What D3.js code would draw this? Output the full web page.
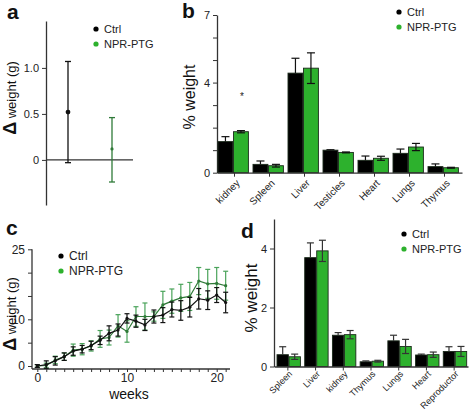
<!DOCTYPE html>
<html><head><meta charset="utf-8">
<script src="https://cdn.jsdelivr.net/npm/d3@7/dist/d3.min.js"></script>
<style>
body{margin:0;background:#fff}
svg{font-family:"Liberation Sans",Arial,sans-serif}
</style>
</head><body>
<svg id="chart" width="472" height="411"></svg>
<script>
// ---------- data ----------
const groups = ["Ctrl", "NPR-PTG"];
// panel a
const aMean = [0.52, 0.12];
const aLow = [-0.03, -0.24];
const aHigh = [1.07, 0.46];
const aTicks = [0, 0.5, 1.0];
// panel b
const bCats = ["kidney", "Spleen", "Liver", "Testicles", "Heart", "Lungs", "Thymus"];
const bCtrl = [1.38, 0.37, 4.42, 1.0, 0.55, 0.86, 0.27];
const bCtrlErr = [0.22, 0.15, 0.66, 0.02, 0.19, 0.19, 0.12];
const bNpr = [1.82, 0.31, 4.64, 0.9, 0.64, 1.14, 0.22];
const bNprErr = [0.05, 0.06, 0.68, 0.02, 0.09, 0.16, 0.02];
const bTicks = [0, 1, 2, 3, 4, 5, 6, 7];
const bLabels = [0, 4, 7];
// panel c
const weeks = [0,1,2,3,4,5,6,7,8,9,10,11,12,13,14,15,16,17,18,19,20,21];
const cCtrl = [0,0.3,1.1,2.0,3.2,3.6,4.4,5.5,7.0,7.7,10.2,9.6,8.8,10.6,10.9,12.1,11.9,12.6,14.4,14.1,15.2,13.6];
const cCtrlErr = [0.3,0.8,0.9,0.8,0.9,0.8,0.9,0.9,1.6,1.3,1.0,1.3,1.2,1.4,1.6,1.6,2.1,2.1,2.2,2.0,1.6,2.2];
const cNpr = [0,0.1,1.3,2.0,3.4,3.6,4.3,5.8,6.1,8.6,7.4,10.6,10.6,10.6,13.1,13.9,14.6,14.9,18.2,17.6,17.7,17.2];
const cNprErr = [0.3,0.5,0.8,0.8,1.3,1.2,1.1,1.8,1.6,2.4,2.3,2.1,2.9,1.0,2.9,2.6,2.9,3.0,2.9,3.1,3.4,3.1];
const cYTicks = [0, 5, 10, 15, 20, 25];
const cYLabels = [0, 10, 25];
const cXLabels = [0, 10, 20];
// panel d
const dCats = ["Spleen", "Liver", "kidney", "Thymus", "Lungs", "Heart", "Reproductor"];
const dCtrl = [0.40, 3.69, 1.06, 0.16, 0.87, 0.39, 0.51];
const dCtrlErr = [0.27, 0.50, 0.09, 0.03, 0.19, 0.03, 0.16];
const dNpr = [0.33, 3.92, 1.08, 0.18, 0.68, 0.40, 0.51];
const dNprErr = [0.09, 0.36, 0.14, 0.03, 0.24, 0.09, 0.17];
const dTicks = [0, 2, 4];

// ---------- styles ----------
const GREEN = "#2db12d";
const GREEN_DARK = "#2f7a38";
const AXIS = "#333";
const svg = d3.select("#chart");

function styleAxis(g, fs) {
  g.select(".domain").attr("stroke", AXIS).attr("stroke-width", 1.3);
  g.selectAll(".tick line").attr("stroke", AXIS).attr("stroke-width", 1);
  g.selectAll(".tick text").attr("fill", "#222").style("font-size", fs + "px")
    .style("font-family", "Liberation Sans, Arial, sans-serif");
}
function title(x, y, t) {
  svg.append("text").attr("x", x).attr("y", y).text(t)
    .style("font-size", "21px").style("font-weight", "bold").attr("fill", "#111");
}
function legend(x, y, gap, fs) {
  const cols = ["#000", GREEN];
  groups.forEach((g, i) => {
    svg.append("circle").attr("cx", x).attr("cy", y + i * gap).attr("r", 2.6).attr("fill", cols[i]);
    svg.append("text").attr("x", x + 8).attr("y", y + i * gap + 4).text(g)
      .style("font-size", fs + "px").attr("fill", "#222");
  });
}
function deltaLabel(cx, cy) {
  const t = svg.append("text").attr("transform", `translate(${cx},${cy}) rotate(-90)`)
    .attr("text-anchor", "middle").attr("fill", "#111");
  t.append("tspan").text("Δ").style("font-size", "18px").style("font-weight", "bold");
  t.append("tspan").text(" weight (g)").style("font-size", "13px");
}
function yLabel(cx, cy, txt, fs) {
  svg.append("text").attr("transform", `translate(${cx},${cy}) rotate(-90)`)
    .attr("text-anchor", "middle").text(txt).style("font-size", fs + "px").attr("fill", "#111");
}

// ---------- panel a ----------
{
  const y = d3.scaleLinear().domain([-0.49, 1.51]).range([205, 21]);
  const x = d3.scalePoint().domain(groups).range([68, 112]);
  const ax = svg.append("g").attr("transform", "translate(46,0)")
    .call(d3.axisLeft(y).tickValues(aTicks).tickFormat(d => d === 0 ? "0" : d3.format(".1f")(d)).tickSize(4).tickSizeOuter(0));
  styleAxis(ax, 11);
  svg.append("line").attr("x1", 46).attr("x2", 133).attr("y1", y(0)).attr("y2", y(0))
    .attr("stroke", AXIS).attr("stroke-width", 1.3);
  const cols = ["#111", GREEN_DARK];
  groups.forEach((g, i) => {
    const cx = x(g);
    svg.append("line").attr("x1", cx).attr("x2", cx).attr("y1", y(aLow[i])).attr("y2", y(aHigh[i]))
      .attr("stroke", cols[i]).attr("stroke-width", 1.3);
    [aLow[i], aHigh[i]].forEach(v => svg.append("line").attr("x1", cx - 3).attr("x2", cx + 3)
      .attr("y1", y(v)).attr("y2", y(v)).attr("stroke", cols[i]).attr("stroke-width", 1.3));
    svg.append("circle").attr("cx", cx).attr("cy", y(aMean[i])).attr("r", i === 0 ? 2.4 : 1.6).attr("fill", cols[i]);
  });
  legend(96, 29, 15, 11);
  deltaLabel(16, 98);
  title(7, 19, "a");
}

// ---------- bar panel helper ----------
function barPanel(cfg) {
  const y = d3.scaleLinear().domain(cfg.yDomain).range([cfg.y0, cfg.yTop]);
  const x = d3.scaleBand().domain(cfg.cats).range([cfg.x0, cfg.x1]);
  const xi = d3.scaleBand().domain(groups).range(cfg.inner);
  const ay = svg.append("g").attr("transform", `translate(${cfg.x0},0)`)
    .call(d3.axisLeft(y).tickValues(cfg.ticks).tickFormat(d => cfg.labels.includes(d) ? d : "").tickSize(4).tickSizeOuter(0));
  styleAxis(ay, cfg.tickFs);
  const series = [cfg.ctrl, cfg.npr];
  const errs = [cfg.ctrlErr, cfg.nprErr];
  const fills = ["#000", GREEN];
  cfg.cats.forEach((c, ci) => {
    groups.forEach((g, gi) => {
      const bx = x(c) + xi(g);
      const w = xi.bandwidth() - 0.6;
      const v = series[gi][ci];
      svg.append("rect").attr("x", bx).attr("y", y(v)).attr("width", w).attr("height", y(0) - y(v))
        .attr("fill", fills[gi]).attr("stroke", "#1b2a1b").attr("stroke-width", 0.9);
      const e = errs[gi][ci];
      const mx = bx + w / 2;
      const lo = gi === 0 ? v : v - e;
      svg.append("line").attr("x1", mx).attr("x2", mx).attr("y1", y(lo)).attr("y2", y(v + e))
        .attr("stroke", cfg.errCol).attr("stroke-width", 1.2);
      svg.append("line").attr("x1", mx - cfg.cap).attr("x2", mx + cfg.cap).attr("y1", y(v + e)).attr("y2", y(v + e))
        .attr("stroke", cfg.errCol).attr("stroke-width", 1.2);
      if (gi === 1) svg.append("line").attr("x1", mx - cfg.cap).attr("x2", mx + cfg.cap).attr("y1", y(v - e)).attr("y2", y(v - e))
        .attr("stroke", cfg.errCol).attr("stroke-width", 1.2);
    });
  });
  const axb = svg.append("g").attr("transform", `translate(0,${cfg.y0})`)
    .call(d3.axisBottom(x).tickSize(4).tickSizeOuter(0).tickFormat(""));
  styleAxis(axb, 9);
  cfg.cats.forEach(c => {
    svg.append("text").attr("transform", `translate(${x(c) + x.bandwidth() / 2 + cfg.lx},${cfg.y0 + cfg.ly}) rotate(-45)`)
      .attr("text-anchor", "end").text(c).style("font-size", cfg.catFs + "px").attr("fill", "#222");
  });
  return {x, y};
}

// ---------- panel b ----------
{
  const r = barPanel({cats: bCats, ctrl: bCtrl, ctrlErr: bCtrlErr, npr: bNpr, nprErr: bNprErr,
    yDomain: [0, 7], y0: 172.7, yTop: 15, x0: 217, x1: 462, inner: [1, 32], ticks: bTicks, labels: bLabels,
    tickFs: 11, catFs: 10, cap: 4, errCol: "#111", lx: 6, ly: 11});
  svg.append("text").attr("x", r.x("kidney") + 23).attr("y", 100).text("*").style("font-size", "10px").attr("fill", "#222");
  legend(399, 12, 15, 11);
  yLabel(195, 97, "% weight", 16);
  title(182, 18, "b");
}

// ---------- panel c ----------
{
  const x = d3.scaleLinear().domain([0, 20]).range([37.3, 216.7]);
  const y = d3.scaleLinear().domain([0, 25]).range([366, 249.3]);
  const ay = svg.append("g").attr("transform", "translate(32,0)")
    .call(d3.axisLeft(y).tickValues(cYTicks).tickFormat(d => cYLabels.includes(d) ? d : "").tickSize(4).tickSizeOuter(0));
  styleAxis(ay, 12);
  ay.select(".domain").attr("d", `M0,${y(25)}V${369}`);
  const axb = svg.append("g").attr("transform", "translate(0,369)")
    .call(d3.axisBottom(x).tickValues(weeks).tickFormat(d => cXLabels.includes(d) ? d : "").tickSize(3).tickPadding(1).tickSizeOuter(0));
  styleAxis(axb, 12);
  axb.select(".domain").attr("d", `M32,0H230`);
  const sets = [
    {m: cNpr, e: cNprErr, line: GREEN_DARK, err: "#4aa35a"},
    {m: cCtrl, e: cCtrlErr, line: "#111", err: "#111"}
  ];
  sets.forEach(s => {
    weeks.forEach((w, i) => {
      const cx = x(w);
      svg.append("line").attr("x1", cx).attr("x2", cx).attr("y1", y(s.m[i] - s.e[i])).attr("y2", y(s.m[i] + s.e[i]))
        .attr("stroke", s.err).attr("stroke-width", 1.2);
      [s.m[i] - s.e[i], s.m[i] + s.e[i]].forEach(v => svg.append("line").attr("x1", cx - 2.5).attr("x2", cx + 2.5)
        .attr("y1", y(v)).attr("y2", y(v)).attr("stroke", s.err).attr("stroke-width", 1.2));
    });
    svg.append("path").datum(weeks).attr("fill", "none").attr("stroke", s.line).attr("stroke-width", 1.2)
      .attr("d", d3.line().x(w => x(w)).y((w, i) => y(s.m[i])));
    weeks.forEach((w, i) => svg.append("circle").attr("cx", x(w)).attr("cy", y(s.m[i])).attr("r", 1.6).attr("fill", s.line));
  });
  legend(61, 256, 15, 12);
  deltaLabel(16, 314);
  svg.append("text").attr("x", 129).attr("y", 399).attr("text-anchor", "middle").text("weeks")
    .style("font-size", "14px").attr("fill", "#111");
  title(6, 235, "c");
}

// ---------- panel d ----------
{
  barPanel({cats: dCats, ctrl: dCtrl, ctrlErr: dCtrlErr, npr: dNpr, nprErr: dNprErr,
    yDomain: [0, 5], y0: 366.5, yTop: 219, x0: 274, x1: 468, inner: [3, 27], ticks: dTicks, labels: dTicks,
    tickFs: 11, catFs: 9, cap: 3.5, errCol: "#333", lx: 5, ly: 8});
  legend(404, 234, 15, 11);
  yLabel(257, 298, "% weight", 17);
  title(241, 238, "d");
}
</script>
</body></html>
